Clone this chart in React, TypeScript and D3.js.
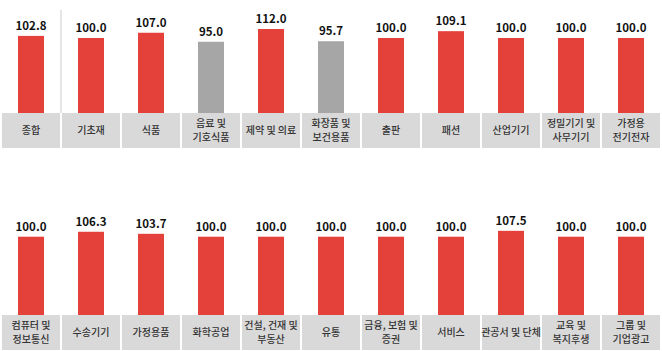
import { useEffect, useRef } from "react"
import * as d3 from "d3"

// top row
const topCategories = [
  "종합",
  "기초재",
  "식품",
  "음료 및\n기호식품",
  "제약 및 의료",
  "화장품 및\n보건용품",
  "출판",
  "패션",
  "산업기기",
  "정밀기기 및\n사무기기",
  "가정용\n전기전자",
]
const topValues = [102.8, 100.0, 107.0, 95.0, 112.0, 95.7, 100.0, 109.1, 100.0, 100.0, 100.0]

// bottom row
const bottomCategories = [
  "컴퓨터 및\n정보통신",
  "수송기기",
  "가정용품",
  "화학공업",
  "건설, 건재 및\n부동산",
  "유통",
  "금융, 보험 및\n증권",
  "서비스",
  "관공서 및 단체",
  "교육 및\n복지후생",
  "그룹 및\n기업광고",
]
const bottomValues = [100.0, 106.3, 103.7, 100.0, 100.0, 100.0, 100.0, 100.0, 107.5, 100.0, 100.0]

const RED = "#e4413a"
const GRAY = "#a6a6a6"
const BOX = "#d9d9d9"
const FONT = "'Noto Sans CJK KR', 'Noto Sans', sans-serif"

export default function App() {
  const svgRef = useRef<SVGSVGElement>(null)

  useEffect(() => {
    if (!svgRef.current) return
    document.body.style.margin = "0"
    const svg = d3.select(svgRef.current)
    svg.selectAll("*").remove()

    const x = d3.scaleBand<number>().domain(d3.range(11)).range([1, 661]).padding(0)
    const barW = 26

    const drawPanel = (
      cats: string[],
      vals: number[],
      base: number,
      y100: number,
      boxBottom: number,
      separator: boolean
    ) => {
      const g = svg.append("g")
      const y = d3.scaleLinear().domain([0, 100]).range([base, y100])

      // label boxes
      g.selectAll(".box")
        .data(cats)
        .enter()
        .append("rect")
        .attr("x", (_, i) => (x(i) as number) + 1)
        .attr("y", base)
        .attr("width", x.bandwidth() - 2)
        .attr("height", boxBottom - base)
        .attr("fill", BOX)

      if (separator) {
        g.append("line")
          .attr("x1", x(1) as number)
          .attr("x2", x(1) as number)
          .attr("y1", 10)
          .attr("y2", base)
          .attr("stroke", "#dedede")
          .attr("stroke-width", 1.5)
      }

      // bars
      g.selectAll(".bar")
        .data(vals)
        .enter()
        .append("rect")
        .attr("x", (_, i) => (x(i) as number) + x.bandwidth() / 2 - barW / 2)
        .attr("width", barW)
        .attr("y", (d) => y(d))
        .attr("height", (d) => base - y(d))
        .attr("fill", (d) => (d < 100 ? GRAY : RED))

      // value labels
      g.selectAll(".val")
        .data(vals)
        .enter()
        .append("text")
        .attr("x", (_, i) => (x(i) as number) + x.bandwidth() / 2)
        .attr("y", (d) => y(d) - 6)
        .attr("text-anchor", "middle")
        .style("font-family", FONT)
        .style("font-size", "11.5px")
        .style("font-weight", "bold")
        .style("fill", "#111")
        .text((d) => d.toFixed(1))

      // category labels, one text per line
      const mid = (base + boxBottom) / 2
      cats.forEach((c, i) => {
        const lines = c.split("\n")
        lines.forEach((ln, j) => {
          g.append("text")
            .attr("x", (x(i) as number) + x.bandwidth() / 2)
            .attr("y", mid + 3.5 + (j - (lines.length - 1) / 2) * 14.5)
            .attr("text-anchor", "middle")
            .style("font-family", FONT)
            .style("font-size", "10px")
            .style("font-weight", "500")
            .style("fill", "#333")
            .text(ln)
        })
      })
    }

    drawPanel(topCategories, topValues, 113, 38, 148, true)
    drawPanel(bottomCategories, bottomValues, 315, 236.7, 350, false)
  }, [])

  return (
    <div style={{ position: "absolute", left: 0, top: 0 }}>
      <svg ref={svgRef} width={662} height={351} style={{ display: "block", background: "#fff" }}></svg>
    </div>
  )
}
